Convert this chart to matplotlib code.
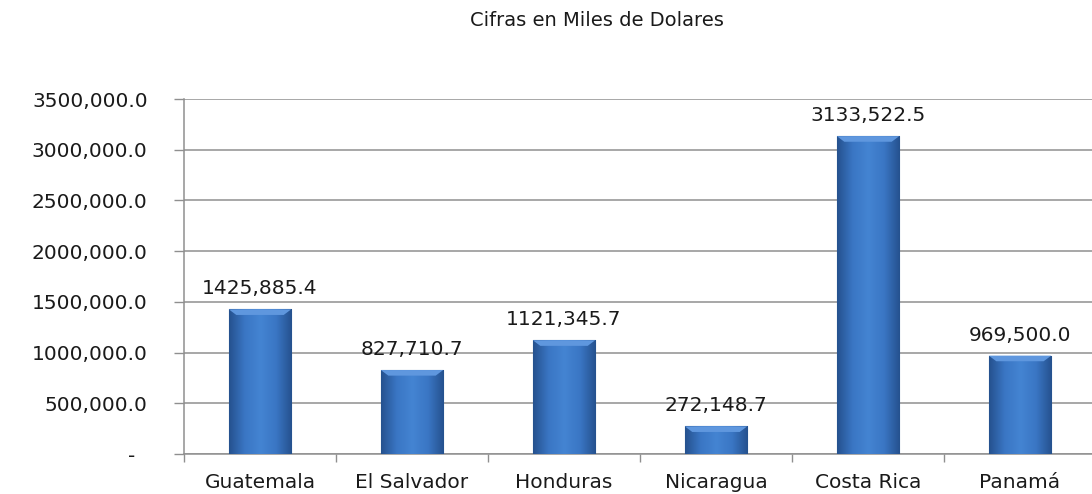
"""
Exportaciones por pais - barras con degradado estilo Excel 2007.
"""

import numpy as np
import matplotlib
matplotlib.use('Agg')
import matplotlib.pyplot as plt
from matplotlib.colors import LinearSegmentedColormap

plt.rcParams['font.family'] = ['DejaVu Sans']

paises = ['Guatemala', 'El Salvador', 'Honduras', 'Nicaragua', 'Costa Rica', 'Panamá']
valores = [1425885.4, 827710.7, 1121345.7, 272148.7, 3133522.5, 969500.0]
y_ticks = [0, 500000, 1000000, 1500000, 2000000, 2500000, 3000000, 3500000]

C_TEXT = '#1A1A1A'
C_GRID = '#8F8F8F'
FS = 14.5


def fmt(v):
    """Formato tipo Excel del original: solo separa los ultimos miles."""
    if v == 0:
        return '-  '
    s = f'{v:.1f}'
    ent, dec = s.split('.')
    if len(ent) > 3:
        ent = ent[:-3] + ',' + ent[-3:]
    return f'{ent}.{dec}'


def main():
    fig = plt.figure(figsize=(10.92, 4.94), dpi=100)
    ax = fig.add_axes([184/1092, 1 - 454/494, (1096 - 184)/1092, (454 - 99)/494])

    x = np.arange(len(paises))
    bars = ax.bar(x, valores, width=0.41, color='#3A73BE', edgecolor='#2C5C9C',
                  linewidth=0.8, zorder=3)

    # degradado horizontal (bordes oscuros, centro claro) recortado a cada barra
    cmap = LinearSegmentedColormap.from_list(
        'bar', ['#25518E', '#3A76C4', '#4484D2', '#3A76C4', '#25518E'])
    grad = np.linspace(0, 1, 256).reshape(1, -1)
    for b in bars:
        x0, w, h = b.get_x(), b.get_width(), b.get_height()
        im = ax.imshow(grad, cmap=cmap, aspect='auto', extent=(x0, x0 + w, 0, h),
                       zorder=3.5, interpolation='bicubic')
        im.set_clip_path(b)
        # bisel superior claro
        ax.fill([x0, x0 + w, x0 + w*0.88, x0 + w*0.12],
                [h, h, h - 55000, h - 55000], color='#5F97DE', zorder=4, lw=0)

    for xi, v in zip(x, valores):
        ax.annotate(fmt(v), (xi, v), xytext=(0, 8), textcoords='offset points',
                    ha='center', va='bottom', fontsize=FS, color=C_TEXT)

    ax.set_xlim(-0.5, len(paises) - 0.5)
    ax.set_ylim(0, 3500000)
    ax.set_yticks(y_ticks)
    ax.set_yticklabels([fmt(t) for t in y_ticks])
    ax.set_xticks(x)
    ax.set_xticklabels(paises)
    ax.set_xticks(np.arange(len(paises) + 1) - 0.5, minor=True)

    ax.yaxis.grid(True, color=C_GRID, lw=1.1, zorder=0)
    ax.tick_params(axis='y', length=7.2, width=1, color=C_GRID, pad=19,
                   labelsize=FS, labelcolor=C_TEXT)
    ax.tick_params(axis='x', which='major', length=0, pad=14,
                   labelsize=FS, labelcolor=C_TEXT)
    ax.tick_params(axis='x', which='minor', length=6, width=1, color=C_GRID)

    for s in ['top', 'right']:
        ax.spines[s].set_visible(False)
    for s in ['left', 'bottom']:
        ax.spines[s].set_color(C_GRID)
        ax.spines[s].set_linewidth(1.1)

    fig.text(597/1092, 1 - 20/494, 'Cifras en Miles de Dolares', ha='center',
             va='center', fontsize=14, color=C_TEXT)

    fig.savefig('out.png', dpi=100, facecolor='white')
    plt.close(fig)


if __name__ == '__main__':
    main()
